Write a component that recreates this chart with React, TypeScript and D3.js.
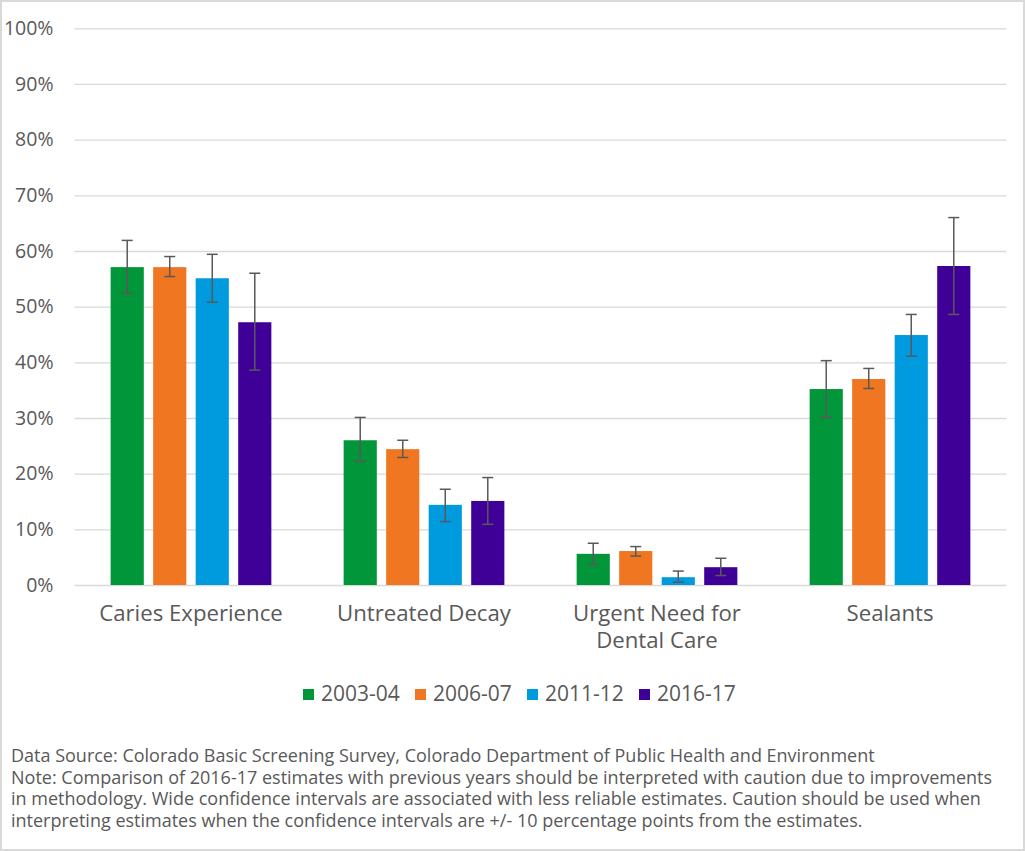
import React, { useRef, useEffect } from 'react'
import { select, scaleBand, scaleLinear, scaleOrdinal, axisLeft, format } from 'd3'

const categories = ['Caries Experience', 'Untreated Decay', 'Urgent Need for\nDental Care', 'Sealants']
const series = ['2003-04', '2006-07', '2011-12', '2016-17']
const colors = ['#009639', '#f07622', '#009ade', '#3f0098']

// estimate, lower CI, upper CI (percent) per series, in category order
const est2003 = [57.1, 26.0, 5.6, 35.2]
const low2003 = [52.4, 22.2, 3.7, 30.1]
const high2003 = [61.9, 30.1, 7.5, 40.3]

const est2006 = [57.1, 24.4, 6.1, 37.0]
const low2006 = [55.4, 22.9, 5.2, 35.3]
const high2006 = [59.0, 26.0, 6.9, 38.9]

const est2011 = [55.1, 14.4, 1.4, 44.9]
const low2011 = [50.8, 11.4, 0.5, 41.1]
const high2011 = [59.4, 17.2, 2.5, 48.6]

const est2016 = [47.2, 15.1, 3.2, 57.3]
const low2016 = [38.6, 10.9, 1.7, 48.6]
const high2016 = [56.0, 19.3, 4.8, 66.0]

const yTicks = [0, 10, 20, 30, 40, 50, 60, 70, 80, 90, 100]

const footnotes = [
    'Data Source: Colorado Basic Screening Survey, Colorado Department of Public Health and Environment',
    'Note: Comparison of 2016-17 estimates with previous years should be interpreted with caution due to improvements',
    'in methodology. Wide confidence intervals are associated with less reliable estimates. Caution should be used when',
    'interpreting estimates when the confidence intervals are +/- 10 percentage points from the estimates.',
]

const W = 1025
const H = 851
const FONT = '"Open Sans", "DejaVu Sans", sans-serif'
const TEXT = '#595959'

const App = () => {
    const ref = useRef<SVGSVGElement>(null)

    useEffect(() => {
        const svg = select(ref.current)
        svg.selectAll('*').remove()

        const table = [
            { est: est2003, low: low2003, high: high2003 },
            { est: est2006, low: low2006, high: high2006 },
            { est: est2011, low: low2011, high: high2011 },
            { est: est2016, low: low2016, high: high2016 },
        ]
        const rows = categories.flatMap((cat, ci) =>
            series.map((s, si) => ({
                cat,
                s,
                value: table[si].est[ci],
                low: table[si].low[ci],
                high: table[si].high[ci],
            }))
        )

        const x0 = scaleBand().domain(categories).range([74.5, 1006.5])
        const x1 = scaleBand().domain(series).range([0, x0.bandwidth()]).paddingInner(0.22).paddingOuter(0.85)
        const y = scaleLinear().domain([0, 100]).range([585, 28.3])
        const color = scaleOrdinal<string, string>().domain(series).range(colors)

        // frame
        svg.append('rect')
            .attr('x', 1).attr('y', 1).attr('width', W - 2).attr('height', H - 2)
            .attr('fill', '#fff').attr('stroke', '#d9d9d9').attr('stroke-width', 2)

        // y axis with gridlines
        const yAxis = svg.append('g')
            .attr('transform', 'translate(74.5,0)')
            .call(axisLeft(y).tickValues(yTicks).tickFormat(d => format('d')(d) + '%').tickSize(-(1006.5 - 74.5)).tickPadding(21))
        yAxis.select('.domain').remove()
        yAxis.selectAll('.tick line').attr('stroke', '#d9d9d9').attr('stroke-width', 1.3)
        yAxis.selectAll('.tick text')
            .attr('fill', TEXT).attr('font-size', 19.5).attr('font-family', FONT)

        // bars
        svg.append('g').selectAll('rect')
            .data(rows)
            .join('rect')
            .attr('x', d => x0(d.cat) + x1(d.s))
            .attr('y', d => y(d.value))
            .attr('width', x1.bandwidth())
            .attr('height', d => y(0) - y(d.value))
            .attr('fill', d => color(d.s))

        // error bars
        const err = svg.append('g').attr('stroke', '#595959').attr('stroke-width', 1.5).attr('fill', 'none')
        const cx = d => x0(d.cat) + x1(d.s) + x1.bandwidth() / 2
        err.selectAll('.whisker').data(rows).join('line').attr('class', 'whisker')
            .attr('x1', cx).attr('x2', cx)
            .attr('y1', d => y(d.low)).attr('y2', d => y(d.high))
        err.selectAll('.cap-hi').data(rows).join('line').attr('class', 'cap-hi')
            .attr('x1', d => cx(d) - 5.5).attr('x2', d => cx(d) + 5.5)
            .attr('y1', d => y(d.high)).attr('y2', d => y(d.high))
        err.selectAll('.cap-lo').data(rows).join('line').attr('class', 'cap-lo')
            .attr('x1', d => cx(d) - 5.5).attr('x2', d => cx(d) + 5.5)
            .attr('y1', d => y(d.low)).attr('y2', d => y(d.low))

        // category labels
        const cl = svg.append('g').selectAll('text')
            .data(categories)
            .join('text')
            .attr('x', d => x0(d) + x0.bandwidth() / 2)
            .attr('y', 621)
            .attr('text-anchor', 'middle')
            .attr('fill', TEXT)
            .attr('font-size', 22.2)
            .attr('font-family', FONT)
        cl.selectAll('tspan')
            .data(d => d.split('\n').map((t, i) => ({ t, i, x: x0(d) + x0.bandwidth() / 2 })))
            .join('tspan')
            .attr('x', d => d.x)
            .attr('dy', d => (d.i === 0 ? 0 : 26.5))
            .text(d => d.t)

        // legend
        const legendX = scaleBand().domain(series).range([303, 303 + 112 * 4])
        const lg = svg.append('g').selectAll('g')
            .data(series)
            .join('g')
            .attr('transform', d => `translate(${legendX(d)},689)`)
        lg.append('rect').attr('width', 11).attr('height', 11).attr('fill', d => color(d))
        lg.append('text')
            .attr('x', 18).attr('y', 12)
            .attr('fill', TEXT).attr('font-size', 21).attr('font-family', FONT)
            .text(d => d)

        // footnotes
        svg.append('g').selectAll('text')
            .data(footnotes)
            .join('text')
            .attr('x', 11)
            .attr('y', (d, i) => 762 + i * 21.5)
            .attr('fill', TEXT)
            .attr('font-size', 18)
            .attr('font-family', FONT)
            .text(d => d)
    }, [])

    return (
        <svg ref={ref} width={W} height={H} style={{ position: 'absolute', left: 0, top: 0 }} />
    )
}

export default App
